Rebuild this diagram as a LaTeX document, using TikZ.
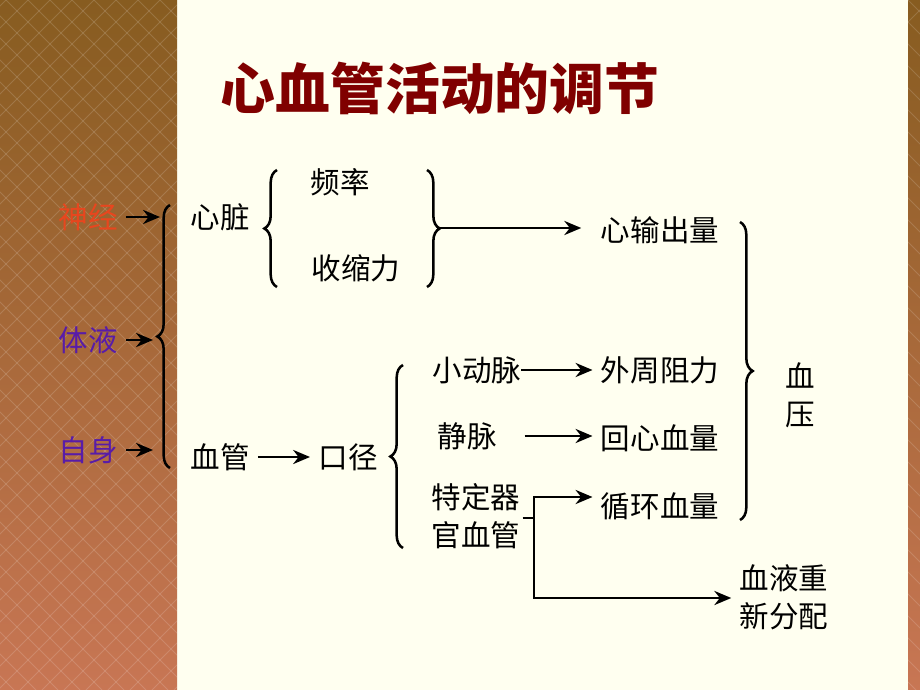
\documentclass[tikz,border=0pt]{standalone}
\usepackage{fontspec}
\setmainfont{Noto Sans CJK SC}
\usetikzlibrary{arrows.meta, positioning, decorations.pathreplacing}

\definecolor{cream}{RGB}{255,255,240}
\definecolor{stripTop}{RGB}{135,92,32}
\definecolor{stripBot}{RGB}{200,118,84}
\definecolor{titleRed}{RGB}{128,0,0}
\definecolor{nerveRed}{RGB}{232,70,30}
\definecolor{fluidPurple}{RGB}{88,28,168}

\begin{document}
\begin{tikzpicture}[x=0.025cm, y=-0.025cm,
  txt/.style={font=\fontsize{21}{27}\selectfont, inner sep=1pt, outer sep=5pt, align=center},
  arr/.style={-{Stealth[length=12pt,width=10pt]}, line width=2pt},
  plain line/.style={line width=2pt},
  brc/.style={decorate, decoration={brace, amplitude=9pt}, line width=1.8pt}]

  % background
  \fill[cream] (0,0) rectangle (920,690);
  \shade[top color=stripTop, bottom color=stripBot] (0,0) rectangle (177,690);
  \shade[top color=stripTop, bottom color=stripBot] (908,0) rectangle (920,690);
  \begin{scope}
    \clip (0,0) rectangle (177,690) (908,0) rectangle (920,690);
    \foreach \k in {-720,-698,...,940} {
      \draw[white, opacity=0.15, line width=0.6pt] (\k,0) -- ++(690,690);
      \draw[white, opacity=0.15, line width=0.6pt] (\k,0) -- ++(-690,690);}
  \end{scope}
  \useasboundingbox (0,0) rectangle (920,690);

  % title
  \node[font=\fontsize{39}{44}\selectfont\bfseries, text=titleRed] (title) at (440,88) {心血管活动的调节};

  % inputs
  \node[txt, text=nerveRed] (shenjing) at (88,217) {神经};
  \node[txt, text=fluidPurple] (tiye) at (88,340) {体液};
  \node[txt, text=fluidPurple] (zishen) at (88,450) {自身};
  \coordinate (inNerve) at (160,217);
  \coordinate (inFluid) at (153,340);
  \coordinate (inSelf) at (153,450);
  \foreach \s/\t in {shenjing/inNerve, tiye/inFluid, zishen/inSelf} {
   \draw[arr] (\s.east) -- (\s.east -| \t);}
  \draw[brc] (170,468) -- (170,205);

  % heart
  \node[txt] (xinzang) at (220,217) {心脏};
  \draw[brc] (277,287) -- (277,170);
  \node[txt] (pinlv) at (340,182) {频率};
  \node[txt] (shousuo) at (356,268) {收缩力};
  \draw[brc] (427,170) -- (427,287);
  \coordinate (heartOut) at (440,228);
  \node[txt] (xinshu) at (660,230) {心输出量};
  \draw[arr, shorten >=8pt] (heartOut) -- (heartOut -| xinshu.west);

  % vessels
  \node[txt] (xueguan) at (220,457) {血管};
  \node[txt] (koujing) at (348,457) {口径};
  \draw[arr] (xueguan) -- (koujing);
  \draw[brc] (403,548) -- (403,365);
  \node[txt] (xiaodong) at (477,370) {小动脉};
  \node[txt] (jingmai) at (467,436) {静脉};
  \node[txt] (teding) at (476,516) {特定器\\官血管};

  \node[txt] (waizhou) at (660,370) {外周阻力};
  \node[txt] (huixin) at (660,438) {回心血量};
  \node[txt] (xunhuan) at (660,506) {循环血量};
  \node[txt] (fenpei) at (784,597) {血液重\\新分配};

  \draw[arr, shorten <=-6pt] (xiaodong) -- (waizhou);
  \draw[arr, shorten <=14pt] (jingmai.east) -- (jingmai.east -| huixin.west);

  \coordinate (split) at (534,518);
  \coordinate (splitUp) at (534,497);
  \coordinate (splitDn) at (534,598);
  \draw[plain line] (teding.east |- split) ++(-6,0) -- (split);
  \draw[arr] (split) -- (splitUp) -- (splitUp -| xunhuan.west);
  \draw[arr] (split) -- (splitDn) -- (splitDn -| fenpei.west);

  % pressure
  \draw[brc] (740,222) -- (740,520);
  \node[txt] (xueya) at (800,395) {血\\压};
\end{tikzpicture}
\end{document}
